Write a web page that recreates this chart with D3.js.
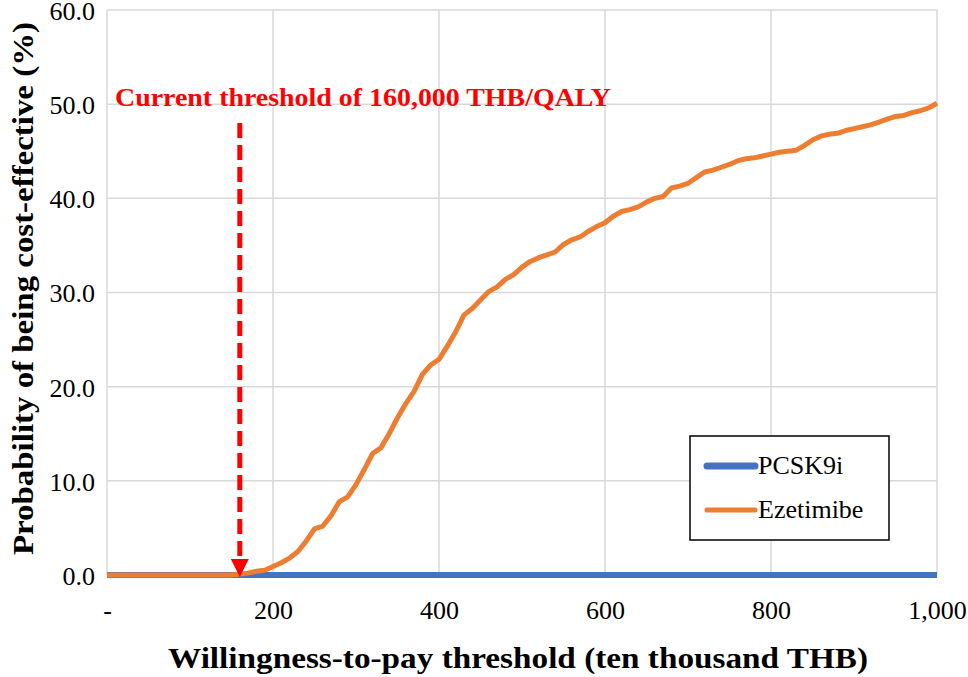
<!DOCTYPE html>
<html>
<head>
<meta charset="utf-8">
<script src="https://cdn.jsdelivr.net/npm/d3@7"></script>
<style>
  body { margin: 0; background: #fff; }
  svg text { font-family: "Liberation Serif", "Times New Roman", Times, "DejaVu Serif", serif !important; }
</style>
</head>
<body>
<svg id="chart" width="968" height="677"></svg>
<script>
// willingness-to-pay (ten thousand THB)
const wtp = [0, 10, 20, 30, 40, 50, 60, 70, 80, 90, 100, 110, 120, 130, 140, 150, 160,
  170, 180, 190, 200, 210, 220, 230, 240, 250, 260, 270, 280, 290, 300,
  310, 320, 330, 340, 350, 360, 370, 380, 390, 400, 410, 420, 430, 440, 450,
  460, 470, 480, 490, 500, 510, 520, 530, 540, 550, 560, 570, 580, 590, 600,
  610, 620, 630, 640, 650, 660, 670, 680, 690, 700, 710, 720, 730, 740, 750,
  760, 770, 780, 790, 800, 810, 820, 830, 840, 850, 860, 870, 880, 890, 900,
  910, 920, 930, 940, 950, 960, 970, 980, 990, 1000]
const ezetimibe = [0, 0, 0, 0, 0, 0, 0, 0, 0, 0, 0, 0, 0, 0, 0, 0, 0.1,
  0.2, 0.4, 0.5, 0.9, 1.3, 1.8, 2.5, 3.6, 4.9, 5.2, 6.3, 7.8, 8.3, 9.6,
  11.2, 12.9, 13.5, 15.0, 16.7, 18.2, 19.5, 21.3, 22.3, 22.9, 24.3, 25.8, 27.6, 28.3, 29.2,
  30.1, 30.6, 31.4, 31.9, 32.7, 33.3, 33.7, 34.0, 34.3, 35.1, 35.6, 35.9, 36.5, 37.0, 37.4,
  38.1, 38.6, 38.8, 39.1, 39.6, 40.0, 40.2, 41.1, 41.3, 41.6, 42.2, 42.8, 43.0, 43.3, 43.6,
  44.0, 44.2, 44.3, 44.5, 44.7, 44.9, 45.0, 45.1, 45.6, 46.2, 46.6, 46.8, 46.9, 47.2, 47.4,
  47.6, 47.8, 48.1, 48.4, 48.7, 48.8, 49.1, 49.3, 49.6, 50.1]
const pcsk9i = wtp.map(() => 0)

const xTicks = [0, 200, 400, 600, 800, 1000]
const yTicks = [0, 10, 20, 30, 40, 50, 60]
const thresholdWtp = 160
const seriesNames = ["PCSK9i", "Ezetimibe"]
const seriesColors = ["#4472C4", "#ED7D31"]

const svg = d3.select("#chart")
const margin = { left: 107, top: 10, right: 31, bottom: 102 }
const w = 968 - margin.left - margin.right
const h = 677 - margin.top - margin.bottom

const x = d3.scaleLinear().domain([0, 1000]).range([0, w])
const y = d3.scaleLinear().domain([0, 60]).range([h, 0])

const g = svg.append("g").attr("transform", `translate(${margin.left},${margin.top})`)

// grid
g.selectAll(".hgrid").data(yTicks).enter().append("line")
  .attr("x1", 0).attr("x2", w)
  .attr("y1", d => y(d)).attr("y2", d => y(d))
  .attr("stroke", "#d9d9d9").attr("stroke-width", 1.5)
g.selectAll(".vgrid").data(xTicks).enter().append("line")
  .attr("x1", d => x(d)).attr("x2", d => x(d))
  .attr("y1", 0).attr("y2", h)
  .attr("stroke", "#d9d9d9").attr("stroke-width", 1.5)

// axes (labels only)
const xAxis = g.append("g").attr("transform", `translate(0,${h})`)
  .call(d3.axisBottom(x).tickValues(xTicks).tickSize(0).tickPadding(26)
    .tickFormat(d => d === 0 ? "-" : d3.format(",")(d)))
xAxis.attr("font-family", null)
xAxis.select(".domain").remove()
xAxis.selectAll("text").attr("font-size", 26).attr("fill", "#000")

const yAxis = g.append("g")
  .call(d3.axisLeft(y).tickValues(yTicks).tickSize(0).tickPadding(12)
    .tickFormat(d3.format(".1f")))
yAxis.attr("font-family", null)
yAxis.select(".domain").remove()
yAxis.selectAll("text").attr("font-size", 26).attr("fill", "#000").attr("dy", "0.36em")

// lines
const line = d3.line().x((d, i) => x(wtp[i])).y(d => y(d))
g.append("path").datum(pcsk9i)
  .attr("d", line).attr("fill", "none")
  .attr("stroke", seriesColors[0]).attr("stroke-width", 6)
g.append("path").datum(ezetimibe)
  .attr("d", line).attr("fill", "none")
  .attr("stroke", seriesColors[1]).attr("stroke-width", 5)
  .attr("stroke-linejoin", "round")

// threshold arrow
const ax = x(thresholdWtp)
g.append("line")
  .attr("x1", ax).attr("x2", ax)
  .attr("y1", 113).attr("y2", h - 14)
  .attr("stroke", "#ff0000").attr("stroke-width", 5)
  .attr("stroke-dasharray", "15,7")
g.append("path")
  .attr("d", `M${ax - 9},${h - 16} L${ax + 9},${h - 16} L${ax},${h + 2} Z`)
  .attr("fill", "#ff0000")
g.append("text")
  .attr("x", 8).attr("y", 96)
  .attr("font-size", 26).attr("font-weight", "bold").attr("fill", "#ff0000")
  .attr("textLength", 496).attr("lengthAdjust", "spacingAndGlyphs")
  .text("Current threshold of 160,000 THB/QALY")

// legend
const lg = svg.append("g").attr("transform", "translate(690,436)")
lg.append("rect").attr("width", 199).attr("height", 104)
  .attr("fill", "#fff").attr("stroke", "#000").attr("stroke-width", 1.5)
seriesNames.forEach((name, i) => {
  lg.append("line")
    .attr("x1", 17).attr("x2", 65)
    .attr("y1", 30 + i * 44).attr("y2", 30 + i * 44)
    .attr("stroke", seriesColors[i]).attr("stroke-width", i === 0 ? 7 : 5)
    .attr("stroke-linecap", "round")
  lg.append("text")
    .attr("x", 68).attr("y", 38 + i * 44)
    .attr("font-size", 26).attr("fill", "#000")
    .text(name)
})

// axis titles
svg.append("text")
  .attr("x", 168).attr("y", 668)
  .attr("font-size", 30).attr("font-weight", "bold")
  .attr("textLength", 700).attr("lengthAdjust", "spacingAndGlyphs")
  .text("Willingness-to-pay threshold (ten thousand THB)")
svg.append("text")
  .attr("transform", "translate(33,555) rotate(-90)")
  .attr("font-size", 30).attr("font-weight", "bold")
  .attr("textLength", 533).attr("lengthAdjust", "spacingAndGlyphs")
  .text("Probability of being cost-effective (%)")
</script>
</body>
</html>
